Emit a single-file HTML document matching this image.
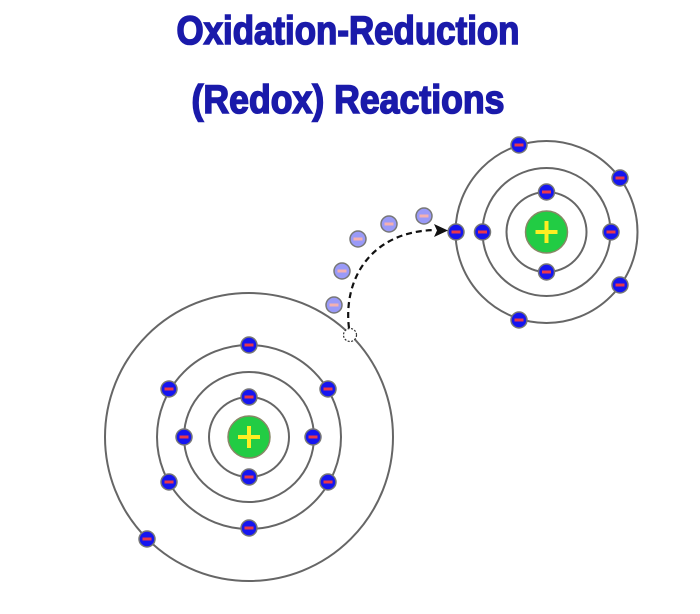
<!DOCTYPE html>
<html><head><meta charset="utf-8"><style>html,body{margin:0;padding:0;background:#fff;}svg{display:block}</style></head>
<body>
<svg width="700" height="614" viewBox="0 0 700 614" xmlns="http://www.w3.org/2000/svg">
<defs>
<g id="e"><circle r="8" fill="#1515f0" stroke="#777" stroke-width="1.5"/><rect x="-4.5" y="-1.5" width="9" height="3" fill="#e8384a"/></g>
<g id="f"><circle r="8" fill="#9a9af8" stroke="#777" stroke-width="1.5"/><rect x="-4.5" y="-1.5" width="9" height="3" fill="#f4b0b0"/></g>
<g id="n"><circle r="21" fill="#22cc44" stroke="#886" stroke-width="1.5"/><rect x="-11" y="-2" width="22" height="4" fill="#ffee22"/><rect x="-2" y="-11" width="4" height="22" fill="#ffee22"/></g>
</defs>
<g font-family="Liberation Sans, sans-serif" font-weight="bold" font-size="40" fill="#1a1aaa" stroke="#1a1aaa" stroke-width="1.6">
<text x="348" y="44" text-anchor="middle" textLength="343" lengthAdjust="spacingAndGlyphs">Oxidation-Reduction</text>
<text x="348" y="113" text-anchor="middle" textLength="313" lengthAdjust="spacingAndGlyphs">(Redox) Reactions</text>
</g>
<g fill="none" stroke="#666" stroke-width="2">
<circle cx="249" cy="437" r="40"/><circle cx="249" cy="437" r="65"/><circle cx="249" cy="437" r="92"/><circle cx="249" cy="437" r="144"/>
<circle cx="546.5" cy="232" r="40"/><circle cx="546.5" cy="232" r="64"/><circle cx="546.5" cy="232" r="91"/>
</g>
<use href="#n" x="249" y="437"/><use href="#n" x="546.5" y="232"/>
<use href="#e" x="249" y="397"/><use href="#e" x="249" y="477"/>
<use href="#e" x="184" y="437"/><use href="#e" x="313" y="437"/>
<use href="#e" x="249" y="345"/><use href="#e" x="169" y="389"/><use href="#e" x="328" y="389"/><use href="#e" x="169" y="482"/><use href="#e" x="328" y="482"/><use href="#e" x="249" y="528"/>
<use href="#e" x="147" y="539"/>
<use href="#e" x="546.5" y="192"/><use href="#e" x="546.5" y="272"/>
<use href="#e" x="482.5" y="232"/><use href="#e" x="611" y="232"/>
<use href="#e" x="456" y="232"/><use href="#e" x="519" y="145"/><use href="#e" x="620" y="178"/><use href="#e" x="620" y="285"/><use href="#e" x="519" y="320"/>
<use href="#f" x="334" y="305"/><use href="#f" x="342" y="271"/><use href="#f" x="358" y="239"/><use href="#f" x="389" y="224"/><use href="#f" x="424" y="216"/>
<circle cx="350" cy="335" r="6.5" fill="#fff" stroke="#333" stroke-width="1.2" stroke-dasharray="2,1.5"/>
<path d="M349 328 C343 280 370 232 434 230" fill="none" stroke="#111" stroke-width="2.2" stroke-dasharray="6,4"/>
<path d="M434 224 L448 230.5 L434 237 L437 230.5 Z" fill="#111"/>
</svg>
</body></html>
